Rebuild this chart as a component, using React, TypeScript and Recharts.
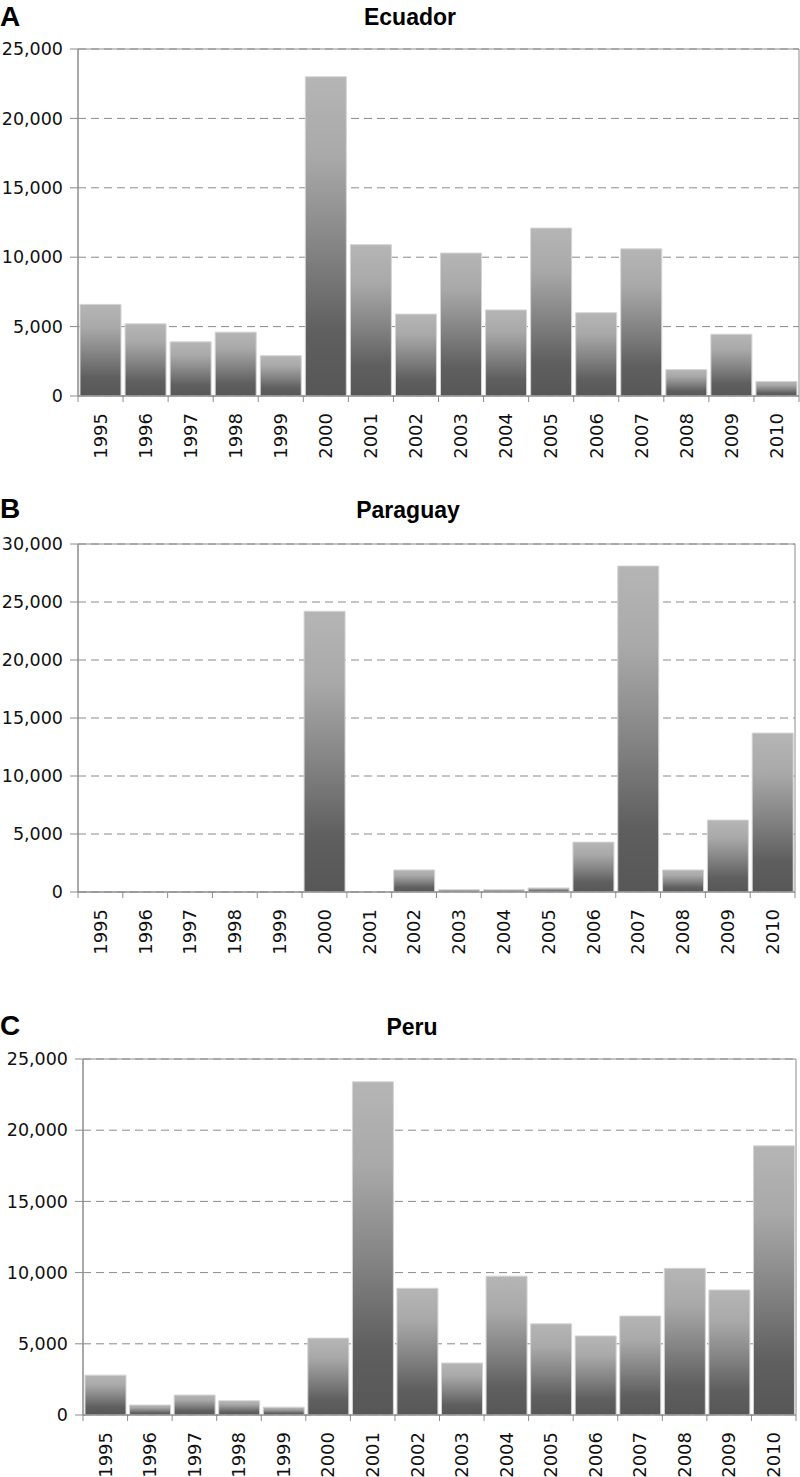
import React from 'react';
import { BarChart, Bar, XAxis, YAxis, CartesianGrid, ReferenceArea, Rectangle } from 'recharts';

const years = ['1995', '1996', '1997', '1998', '1999', '2000', '2001', '2002', '2003', '2004', '2005', '2006', '2007', '2008', '2009', '2010'];

const ecuadorCases = [6600, 5200, 3900, 4600, 2900, 23000, 10900, 5900, 10300, 6200, 12100, 6000, 10600, 1900, 4450, 1050];
const paraguayCases = [0, 0, 0, 0, 0, 24200, 0, 1900, 200, 200, 350, 4300, 28100, 1900, 6200, 13700];
const peruCases = [2800, 700, 1400, 1000, 550, 5400, 23400, 8900, 3650, 9750, 6400, 5550, 6950, 10300, 8780, 18900];

const ticks25 = [0, 5000, 10000, 15000, 20000, 25000];
const ticks30 = [0, 5000, 10000, 15000, 20000, 25000, 30000];

const AXIS = '#8c8c8c';
const FONT = '"DejaVu Sans", Verdana, sans-serif';

const fmt = (v: number) => v.toLocaleString('en-US');

// skip empty bars so a zero value leaves no outline on the axis
const BarShape = (props: any) => (props.height > 0 ? <Rectangle {...props} /> : <g />);

const YearTick = (props: any) => {
  const { x, y, payload, band, last } = props;
  const left = x - band / 2;
  const ty = y + 11;
  return (
    <g>
      <line x1={left} y1={y - 6} x2={left} y2={y} stroke={AXIS} />
      {payload.index === last && <line x1={x + band / 2} y1={y - 6} x2={x + band / 2} y2={y} stroke={AXIS} />}
      <text
        x={x}
        y={ty}
        transform={`rotate(-90, ${x}, ${ty})`}
        textAnchor="end"
        dy="0.35em"
        fontFamily={FONT}
        fontSize={18}
        fill="#111"
      >
        {payload.value}
      </text>
    </g>
  );
};

interface PanelProps {
  id: string;
  letter: string;
  title: string;
  titleX: number;
  titleY: number;
  letterY: number;
  values: number[];
  ticks: number[];
  top: number;
  height: number;
  margin: { top: number; right: number; bottom: number; left: number };
  yWidth: number;
}

const Panel = ({ id, letter, title, titleX, titleY, letterY, values, ticks, top, height, margin, yWidth }: PanelProps) => {
  const data = years.map((year, i) => ({ year, cases: values[i] }));
  const max = ticks[ticks.length - 1];
  const band = (800 - yWidth - margin.left - margin.right) / years.length;
  return (
    <div style={{ position: 'absolute', left: 0, top, width: 800, height }}>
      <BarChart width={800} height={height} data={data} margin={margin} barCategoryGap={2}>
        <defs>
          <linearGradient id={id} x1="0" y1="0" x2="0" y2="1">
            <stop offset="0%" stopColor="#b5b5b5" />
            <stop offset="25%" stopColor="#a9a9a9" />
            <stop offset="55%" stopColor="#828282" />
            <stop offset="80%" stopColor="#5f5f5f" />
            <stop offset="100%" stopColor="#575757" />
          </linearGradient>
        </defs>
        <CartesianGrid vertical={false} stroke="#8a8a8a" strokeDasharray="8 5" />
        <XAxis
          dataKey="year"
          interval={0}
          height={60}
          tickSize={6}
          tickMargin={0}
          tickLine={false}
          axisLine={{ stroke: AXIS }}
          tick={(p: any) => <YearTick {...p} band={band} last={years.length - 1} />}
        />
        <YAxis
          width={yWidth}
          domain={[0, max]}
          ticks={ticks}
          interval={0}
          tickFormatter={fmt}
          tickSize={8}
          tickMargin={7}
          axisLine={{ stroke: AXIS }}
          tickLine={{ stroke: AXIS }}
          tick={{ fontFamily: FONT, fontSize: 17.5, fill: '#111' }}
        />
        <Bar
          dataKey="cases"
          fill={`url(#${id})`}
          stroke="#d4d4d4"
          strokeWidth={1}
          shape={BarShape}
          isAnimationActive={false}
        />
        <ReferenceArea x1={years[0]} x2={years[years.length - 1]} y1={0} y2={max} fill="none" fillOpacity={0} stroke={AXIS} strokeOpacity={1} />
      </BarChart>
      <svg width={800} height={60} style={{ position: 'absolute', left: 0, top: 0, pointerEvents: 'none' }}>
        <text x={0} y={letterY} fontFamily='"Liberation Sans", Arial, sans-serif' fontWeight="bold" fontSize={28} fill="#000">
          {letter}
        </text>
        <text x={titleX} y={titleY} textAnchor="middle" fontFamily='"Liberation Sans", Arial, sans-serif' fontWeight="bold" fontSize={23} fill="#000">
          {title}
        </text>
      </svg>
    </div>
  );
};

export default function App() {
  return (
    <div style={{ position: 'absolute', left: 0, top: 0, width: 800, height: 1477, background: '#fff' }}>
      <Panel
        id="gradA"
        letter="A"
        title="Ecuador"
        titleX={410}
        titleY={25}
        letterY={26}
        values={ecuadorCases}
        ticks={ticks25}
        top={0}
        height={470}
        margin={{ top: 49, right: 1, bottom: 14, left: 0 }}
        yWidth={78}
      />
      <Panel
        id="gradB"
        letter="B"
        title="Paraguay"
        titleX={408}
        titleY={38}
        letterY={38}
        values={paraguayCases}
        ticks={ticks30}
        top={480}
        height={480}
        margin={{ top: 64, right: 5, bottom: 8, left: 0 }}
        yWidth={78}
      />
      <Panel
        id="gradC"
        letter="C"
        title="Peru"
        titleX={412}
        titleY={45}
        letterY={45}
        values={peruCases}
        ticks={ticks25}
        top={990}
        height={487}
        margin={{ top: 69, right: 4, bottom: 2, left: 0 }}
        yWidth={83}
      />
    </div>
  );
}
